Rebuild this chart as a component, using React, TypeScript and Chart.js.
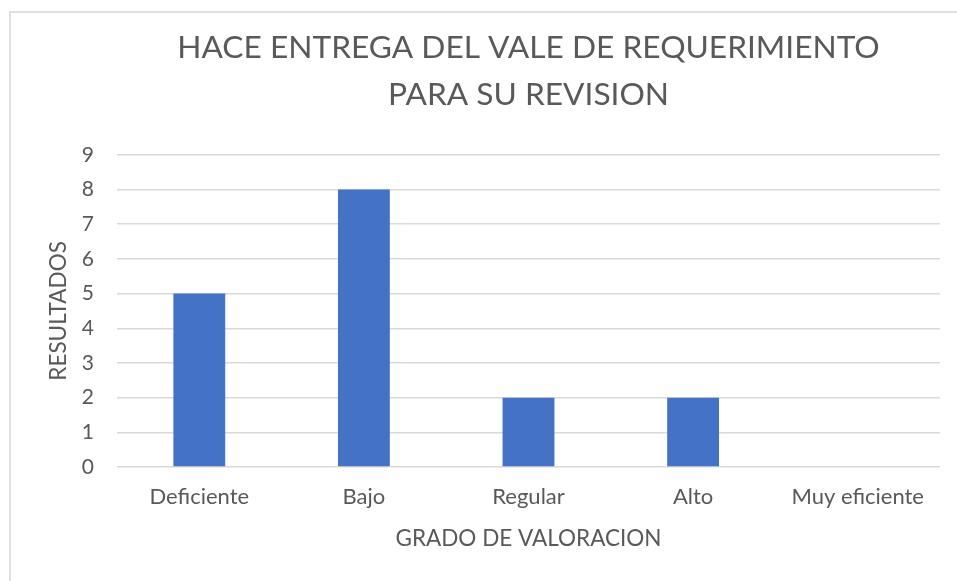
import React, { useEffect, useRef } from "react";
import { Chart, registerables } from "chart.js";

Chart.register(...registerables);

const categories = ["Deficiente", "Bajo", "Regular", "Alto", "Muy eficiente"];
const values = [5, 8, 2, 2, 0];
const titleLines = ["HACE ENTREGA DEL VALE DE REQUERIMIENTO", "PARA SU REVISION"];
const yTitle = "RESULTADOS";
const xTitle = "GRADO DE VALORACION";
const yMin = 0;
const yMax = 9;
const yStep = 1;

const FONT = "Lato";
const TEXT = "#595959";
const GRID = "#d9d9d9";
const BAR = "#4472C4";

export default function App() {
  const ref = useRef<HTMLCanvasElement | null>(null);
  useEffect(() => {
    if (!ref.current) return;
    const chart = new Chart(ref.current, {
      type: "bar",
      data: {
        labels: categories,
        datasets: [
          {
            data: values,
            backgroundColor: BAR,
            borderWidth: 0,
            barPercentage: 0.315,
            categoryPercentage: 1,
          },
        ],
      },
      options: {
        responsive: false,
        animation: false,
        layout: { padding: { left: 0, right: 17, top: 0, bottom: 0 } },
        plugins: {
          legend: { display: false },
          tooltip: { enabled: false },
          title: {
            display: true,
            text: titleLines,
            fullSize: false,
            color: TEXT,
            font: { family: FONT, size: 31.7, weight: "normal", lineHeight: 1.48 },
            padding: { top: 24.5, bottom: 36.5 },
          },
        },
        scales: {
          x: {
            grid: { display: false, drawTicks: false },
            border: { display: false },
            ticks: {
              color: TEXT,
              font: { family: FONT, size: 22 },
              padding: 16.5,
              maxRotation: 0,
              autoSkip: false,
            },
            title: {
              display: true,
              text: xTitle,
              color: TEXT,
              font: { family: FONT, size: 22.5 },
              padding: { top: 10, bottom: 28.5 },
            },
            afterFit: (s: any) => {
              s.height = 114;
            },
          },
          y: {
            min: yMin,
            max: yMax,
            grid: { color: GRID, lineWidth: 1.5, drawTicks: false },
            border: { display: false },
            ticks: {
              stepSize: yStep,
              color: TEXT,
              font: { family: FONT, size: 21 },
              padding: 23,
            },
            title: {
              display: true,
              text: yTitle,
              color: TEXT,
              font: { family: FONT, size: 22.5 },
              padding: { top: 45.5, bottom: 0 },
            },
            afterFit: (s: any) => {
              s.width = 117;
            },
          },
        },
      },
    });
    return () => chart.destroy();
  }, []);

  return (
    <div
      style={{
        position: "fixed",
        left: 0,
        top: 0,
        width: 957,
        height: 581,
        overflow: "hidden",
        background: "#fff",
      }}
    >
      <div
        style={{
          position: "absolute",
          left: 9,
          top: 11,
          width: 1000,
          height: 1000,
          border: "2px solid #e0e0e0",
        }}
      />
      <canvas
        ref={ref}
        width={957}
        height={581}
        style={{ position: "absolute", left: 0, top: 0 }}
      />
    </div>
  );
}
